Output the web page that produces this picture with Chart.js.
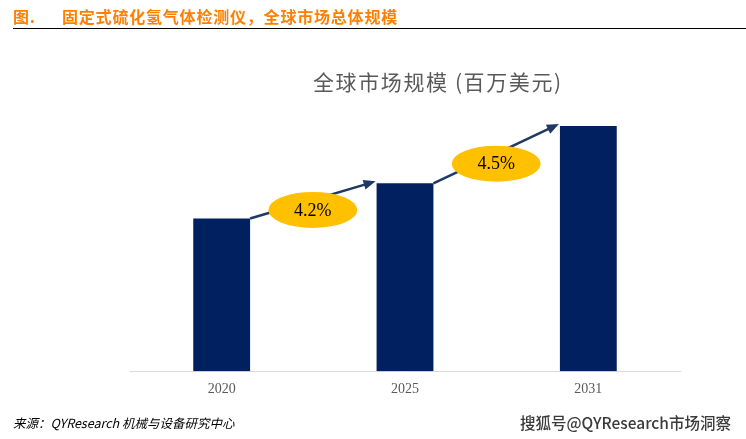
<!DOCTYPE html>
<html>
<head>
<meta charset="utf-8">
<script src="https://cdn.jsdelivr.net/npm/chart.js@4.4.0/dist/chart.umd.min.js"></script>
<style>
  html, body { margin: 0; padding: 0; background: #fff; }
  body { width: 746px; height: 439px; position: relative; overflow: hidden; }
  #header { position: absolute; left: 13px; top: 4px; color: #FF8000; font: bold 16px "Noto Sans CJK SC"; letter-spacing: 0.8px; white-space: nowrap; }
  #header .fig { display: inline-block; width: 49px; }
  #rule { position: absolute; left: 13px; right: 0; top: 28px; height: 0; border-top: 1.5px solid #000; }
  #title { position: absolute; left: 313px; top: 66px; color: #595959; font: 21px "Noto Sans CJK SC"; letter-spacing: 1.6px; white-space: nowrap; }
  #source { position: absolute; left: 13px; top: 413px; font: italic 12.5px "Noto Sans CJK SC"; color: #000; white-space: nowrap; }
  #mark { position: absolute; right: 15px; top: 411px; font: 500 15.5px "Noto Sans CJK SC"; color: #3a3a3a; white-space: nowrap; text-shadow: 0 0 2px #fff; }
  #wrap { position: absolute; left: 0; top: 0; width: 746px; height: 439px; }
</style>
</head>
<body>
<div id="wrap"><canvas id="barChart"></canvas></div>
<div id="header"><span class="fig">图.</span>固定式硫化氢气体检测仪，全球市场总体规模</div>
<div id="rule"></div>
<div id="title">全球市场规模 (百万美元)</div>
<div id="source">来源：QYResearch 机械与设备研究中心</div>
<div id="mark">搜狐号@QYResearch市场洞察</div>
<script>
// chart values (relative market size, million USD scale not shown)
var years = ['2020', '2025', '2031'];
var marketSize = [152, 187, 244];
var cagrLabels = ['4.2%', '4.5%'];

// arrows + CAGR ellipses between neighbouring bars
var growthArrows = {
    id: 'growthArrows',
    afterDatasetsDraw: function (chart) {
        var ctx = chart.ctx;
        var bars = chart.getDatasetMeta(0).data;
        for (var i = 0; i < bars.length - 1; i++) {
            var a = bars[i], b = bars[i + 1];
            var x1 = a.x + a.width / 2, y1 = a.y;
            var x2 = b.x - b.width / 2 - 1, y2 = b.y - 2;
            var ang = Math.atan2(y2 - y1, x2 - x1);
            var head = 12;
            ctx.save();
            ctx.strokeStyle = '#1F3864';
            ctx.fillStyle = '#1F3864';
            ctx.lineWidth = 2.5;
            ctx.beginPath();
            ctx.moveTo(x1, y1);
            ctx.lineTo(x2 - Math.cos(ang) * head * 0.8, y2 - Math.sin(ang) * head * 0.8);
            ctx.stroke();
            ctx.beginPath();
            ctx.moveTo(x2, y2);
            ctx.lineTo(x2 - head * Math.cos(ang) + 5 * Math.sin(ang), y2 - head * Math.sin(ang) - 5 * Math.cos(ang));
            ctx.lineTo(x2 - head * Math.cos(ang) - 5 * Math.sin(ang), y2 - head * Math.sin(ang) + 5 * Math.cos(ang));
            ctx.closePath();
            ctx.fill();

            var cx = (x1 + x2) / 2, cy = (y1 + y2) / 2 + 10;
            ctx.fillStyle = '#FFC000';
            ctx.beginPath();
            ctx.ellipse(cx, cy, 44.5, 18, 0, 0, Math.PI * 2);
            ctx.fill();
            ctx.fillStyle = '#000';
            ctx.font = '18px "Liberation Serif", serif';
            ctx.textAlign = 'center';
            ctx.textBaseline = 'middle';
            ctx.fillText(cagrLabels[i], cx, cy + 1);
            ctx.restore();
        }
    }
};

var ctx = document.getElementById('barChart').getContext('2d');
var barChart = new Chart(ctx, {
    type: 'bar',
    data: {
        labels: years,
        datasets: [{
            label: '全球市场规模',
            data: marketSize,
            backgroundColor: '#002060',
            borderWidth: 0,
            categoryPercentage: 1,
            barPercentage: 0.31
        }]
    },
    options: {
        responsive: true,
        maintainAspectRatio: false,
        animation: false,
        layout: { padding: { left: 130, right: 66, top: 100, bottom: 31 } },
        plugins: {
            legend: { display: false },
            tooltip: { enabled: false }
        },
        scales: {
            x: {
                grid: { display: false, drawTicks: false },
                border: { display: true, color: '#D9D9D9', width: 1 },
                ticks: {
                    color: '#595959',
                    padding: 10,
                    font: { family: '"Liberation Serif"', size: 14 }
                }
            },
            y: {
                display: false,
                min: 0,
                max: 270
            }
        }
    },
    plugins: [growthArrows]
});
</script>
</body>
</html>
